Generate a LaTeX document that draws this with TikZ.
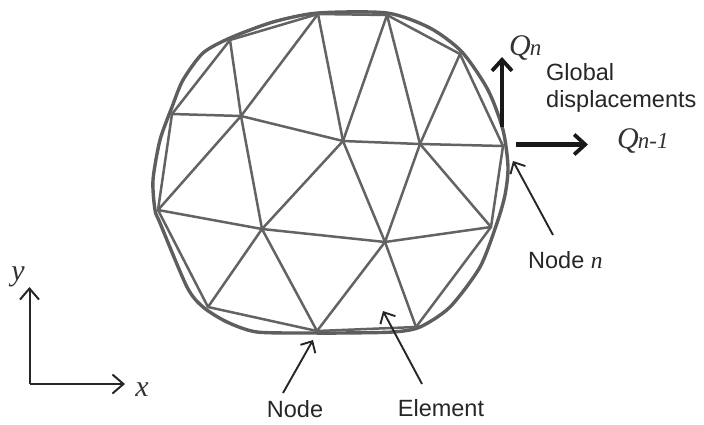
\documentclass[tikz,border=0pt]{standalone}
\usepackage{fontspec}
\setmainfont{Liberation Sans}
\newfontfamily\serifit[ItalicFont={Liberation Serif Italic}]{Liberation Serif}
\usetikzlibrary{arrows.meta}
\definecolor{meshgray}{HTML}{636363}
\definecolor{rimgray}{HTML}{5E5E5E}
\definecolor{inkdark}{HTML}{262626}
\tikzset{
  meshline/.style={draw=meshgray,line width=2.5pt,line cap=round},
  rimline/.style={draw=rimgray,line width=3.4pt,line join=round},
  thinarrow/.style={draw=inkdark,line width=1.9pt,-{Straight Barb[length=9pt,width=17pt,line width=1.9pt]}},
  axisarrow/.style={draw=inkdark,line width=2pt,-{Straight Barb[length=11pt,width=19pt,line width=2pt]}},
  heavyarrow/.style={draw=black!90,line width=4.6pt,-{Straight Barb[length=11pt,width=20pt,line width=3.8pt]}},
  lab/.style={inner sep=0pt,text=inkdark,font=\fontsize{23.5}{27}\selectfont},
  mathlab/.style={inner sep=0pt,text=black!80,font=\serifit\itshape\fontsize{30}{33}\selectfont}
}
\newcommand{\subsz}{\fontsize{23}{26}\selectfont}
\begin{document}
\begin{tikzpicture}[x=1pt,y=-1pt]
\useasboundingbox (0,0) rectangle (704,424);
% mesh nodes
\coordinate (T) at (318,14);
\coordinate (B) at (387,15);
\coordinate (C) at (460,54);
\coordinate (D) at (503,146);
\coordinate (E) at (491,227);
\coordinate (F) at (416,327);
\coordinate (G) at (317,331);
\coordinate (H) at (208,307);
\coordinate (I) at (158,210);
\coordinate (J) at (172,114);
\coordinate (K) at (230,40);
\coordinate (L) at (241,116);
\coordinate (M) at (343,141);
\coordinate (P) at (420,144);
\coordinate (N) at (262,229);
\coordinate (O) at (385,242);
% outer rim
\draw[rimline] plot[smooth cycle,tension=0.45] coordinates {
 (318,13) (387,13) (430,28) (462,52) (488,90) (503,130) (508,167) (505,195) (497,223)
 (480,267) (450,307) (420,327) (393,332) (340,333) (313,333) (257,332) (227,322)
 (203,307) (187,287) (160,223) (155,210) (153,180) (160,140) (172,107) (183,80) (203,53) (230,38) (273,22)};
% mesh edges
\foreach \a/\b in {T/B,B/C,C/D,D/E,E/F,F/G,G/H,H/I,I/J,J/K,K/T,
  K/L,J/L,I/L,T/L,L/M,L/N,T/M,B/M,B/P,C/P,M/P,P/D,M/N,M/O,P/O,P/E,
  N/I,N/H,N/G,N/O,O/G,O/F,O/E}
  \draw[meshline] (\a) -- (\b);
% thick displacement arrows
\coordinate (qnS) at (502,127);
\coordinate (qnE) at (502,57);
\coordinate (qmS) at (516,144.5);
\coordinate (qmE) at (588,144.5);
\draw[heavyarrow] (qnS) -- (qnE);
\draw[heavyarrow] (qmS) -- (qmE);
% labels
\node[mathlab,anchor=base west] (qn) at (509,55) {Q\kern-1pt{\subsz n}};
\node[mathlab,anchor=base west] (qm) at (617,148) {Q\kern-1pt{\subsz n-1}};
\node[lab,anchor=base west] (glob) at (546,80) {Global};
\node[lab,anchor=base west] (disp) at (546,107) {displacements};
\node[lab,anchor=base west] (nn) at (528,268) {Node {\serifit\itshape n}};
\node[lab,anchor=base] (nd) at (295,417) {Node};
\node[lab,anchor=base] (el) at (441,416) {Element};
% pointer arrows
\coordinate (nnTail) at (553,235);
\coordinate (nnTip) at (513,161);
\coordinate (ndTail) at (283,393);
\coordinate (ndTip) at (313,340);
\coordinate (elTail) at (422,384);
\coordinate (elTip) at (383,311);
\draw[thinarrow] (nnTail) -- (nnTip);
\draw[thinarrow] (ndTail) -- (ndTip);
\draw[thinarrow] (elTail) -- (elTip);
% axes
\coordinate (orig) at (29.5,384);
\coordinate (yTip) at (29.5,287);
\coordinate (xTip) at (125,384);
\draw[axisarrow] (orig) -- (yTip);
\draw[axisarrow] (orig) -- (xTip);
\node[mathlab,anchor=base] (ylab) at (18,280) {y};
\node[mathlab,anchor=base] (xlab) at (142,396) {x};
\end{tikzpicture}
\end{document}
